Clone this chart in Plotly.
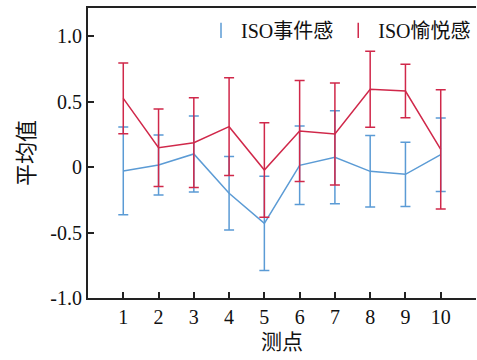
import plotly.graph_objects as go

points = [1, 2, 3, 4, 5, 6, 7, 8, 9, 10]
event_name = "ISO事件感"
event_mean = [-0.03, 0.015, 0.10, -0.20, -0.43, 0.013, 0.074, -0.033, -0.056, 0.094]
event_err = [0.335, 0.229, 0.29, 0.28, 0.36, 0.30, 0.355, 0.273, 0.245, 0.28]
joy_name = "ISO愉悦感"
joy_mean = [0.524, 0.147, 0.186, 0.308, -0.023, 0.275, 0.252, 0.593, 0.58, 0.135]
joy_err = [0.27, 0.295, 0.343, 0.373, 0.36, 0.386, 0.39, 0.29, 0.204, 0.455]
y_ticks = [-1.0, -0.5, 0, 0.5, 1.0]
y_tick_text = ["-1.0", "-0.5", "0", "0.5", "1.0"]

BLUE = "#5B9BD5"
RED = "#D0284A"
FONT = "Liberation Serif, Times New Roman, Noto Sans CJK SC, serif"

fig = go.Figure()
for name, mean, err, color in [(event_name, event_mean, event_err, BLUE),
                               (joy_name, joy_mean, joy_err, RED)]:
    fig.add_trace(go.Scatter(
        x=points, y=mean, mode="lines", name=name, showlegend=False,
        line=dict(color=color, width=1.5),
        error_y=dict(type="data", array=err, visible=True, color=color,
                     thickness=1.5, width=5),
    ))
    fig.add_trace(go.Scatter(
        x=[None], y=[None], mode="markers", name=name, showlegend=True,
        marker=dict(symbol="line-ns-open", size=11, color=color,
                    line=dict(color=color, width=1.5)),
    ))

fig.update_layout(
    width=477, height=360,
    margin=dict(l=88, r=1, t=8, b=62),
    paper_bgcolor="white", plot_bgcolor="white",
    font=dict(family=FONT, size=20, color="#111"),
    showlegend=True,
    legend=dict(orientation="h", x=1.0, xanchor="right", y=0.99, yanchor="top",
                bgcolor="rgba(0,0,0,0)", font=dict(size=20, family=FONT),
                itemwidth=30, tracegroupgap=0),
    xaxis=dict(range=[0, 11], tickvals=points, ticktext=[str(p) for p in points],
               showline=True, linecolor="#222", linewidth=2, mirror=True,
               ticks="inside", ticklen=6, tickwidth=2, tickcolor="#222",
               showgrid=False, zeroline=False,
               title=dict(text="测点", font=dict(size=21, family=FONT), standoff=7)),
    yaxis=dict(range=[-1.0, 1.214], tickvals=y_ticks, ticktext=y_tick_text,
               showline=True, linecolor="#222", linewidth=2,
               ticks="inside", ticklen=6, tickwidth=2, tickcolor="#222",
               showgrid=False, zeroline=False,
               title=dict(text="平均值", font=dict(size=22, family=FONT), standoff=10)),
)

fig.write_html("out.html")
